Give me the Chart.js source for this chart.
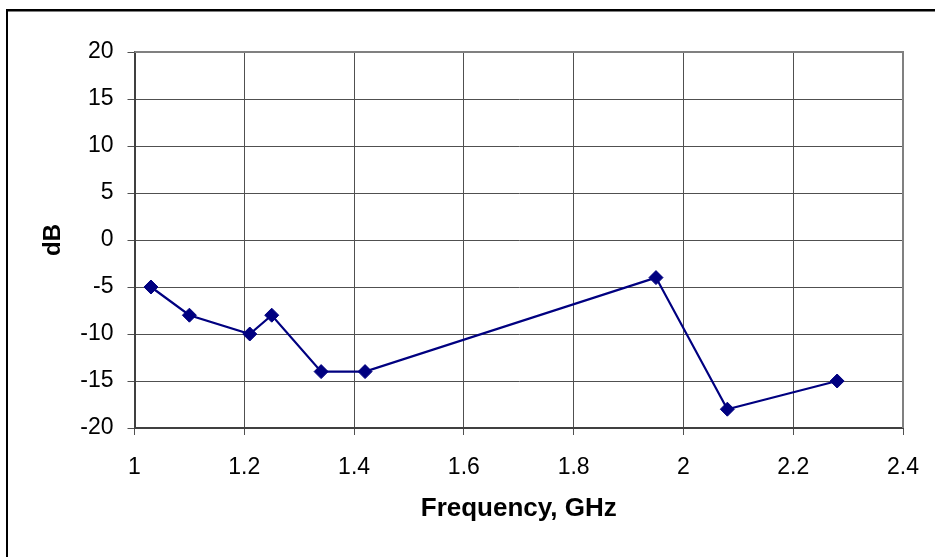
<!DOCTYPE html>
<html>
<head>
<meta charset="utf-8">
<script src="https://cdn.jsdelivr.net/npm/chart.js@4/dist/chart.umd.min.js"></script>
<style>
  html, body { margin: 0; padding: 0; background: #ffffff; }
  #wrap { width: 935px; height: 557px; position: relative; }
</style>
</head>
<body>
<div id="wrap"><canvas id="c" width="935" height="557"></canvas></div>
<script>
// Data
const frequencyGHz = [1.03, 1.10, 1.21, 1.25, 1.34, 1.42, 1.95, 2.08, 2.28];
const levelDB      = [-5, -8, -10, -8, -14, -14, -4, -18, -15];
const xTickValues  = [1, 1.2, 1.4, 1.6, 1.8, 2, 2.2, 2.4];
const yTickValues  = [-20, -15, -10, -5, 0, 5, 10, 15, 20];
const xTitle = 'Frequency, GHz';
const yTitle = 'dB';

const points = frequencyGHz.map((f, i) => ({ x: f, y: levelDB[i] }));

const frame = {
  id: 'frame',
  beforeDraw(chart) {
    const ctx = chart.ctx;
    ctx.save();
    ctx.fillStyle = '#ffffff';
    ctx.fillRect(0, 0, chart.width, chart.height);
    ctx.fillStyle = '#000000';
    ctx.fillRect(6, 9, chart.width - 6, 2.5);
    ctx.fillRect(6, 9, 2, chart.height - 9);
    ctx.restore();
  },
  beforeDatasetsDraw(chart) {
    const ctx = chart.ctx;
    const a = chart.chartArea;
    ctx.save();
    ctx.strokeStyle = '#808080';
    ctx.lineWidth = 2;
    ctx.beginPath();
    ctx.moveTo(a.left, a.top);
    ctx.lineTo(a.right, a.top);
    ctx.lineTo(a.right, a.bottom);
    ctx.stroke();
    ctx.restore();
  }
};

const tickFont = { family: '"Liberation Sans", Arial, sans-serif', size: 23 };
const xTitleFont = { family: '"Liberation Sans", Arial, sans-serif', size: 26, weight: 'bold' };
const yTitleFont = { family: '"Liberation Sans", Arial, sans-serif', size: 24, weight: 'bold' };

new Chart(document.getElementById('c'), {
  type: 'line',
  data: {
    datasets: [{
      data: points,
      borderColor: '#000080',
      backgroundColor: '#000080',
      borderWidth: 2.2,
      pointStyle: 'rectRot',
      pointRadius: 7,
      pointBorderWidth: 1,
      pointBackgroundColor: '#000080',
      pointBorderColor: '#000080',
      tension: 0,
      fill: false
    }]
  },
  options: {
    responsive: false,
    animation: false,
    layout: { padding: { left: 0, top: 52, right: 32, bottom: 0 } },
    plugins: { legend: { display: false }, tooltip: { enabled: false } },
    scales: {
      x: {
        type: 'linear',
        min: xTickValues[0],
        max: xTickValues[xTickValues.length - 1],
        afterBuildTicks(scale) { scale.ticks = xTickValues.map(v => ({ value: v })); },
        afterFit(scale) { scale.height = 129; scale.paddingRight = 0; scale.paddingLeft = 0; },
        ticks: {
          color: '#000000',
          font: tickFont,
          padding: 19,
          maxRotation: 0,
          callback: v => String(v)
        },
        grid: { color: '#505050', lineWidth: 1, tickLength: 7, drawTicks: true },
        border: { color: '#404040', width: 2 },
        title: { display: true, text: xTitle, color: '#000000', font: xTitleFont, padding: { top: 0, bottom: 33 } }
      },
      y: {
        type: 'linear',
        min: yTickValues[0],
        max: yTickValues[yTickValues.length - 1],
        afterBuildTicks(scale) { scale.ticks = yTickValues.map(v => ({ value: v })); },
        afterFit(scale) { scale.width = 134.5; scale.paddingTop = 0; scale.paddingBottom = 0; },
        ticks: {
          color: '#000000',
          font: tickFont,
          padding: 14,
          callback: v => String(v)
        },
        grid: { color: '#505050', lineWidth: 1, tickLength: 7, drawTicks: true },
        border: { color: '#404040', width: 2 },
        title: { display: true, text: yTitle, color: '#000000', font: yTitleFont, padding: { top: 39, bottom: 0 } }
      }
    }
  },
  plugins: [frame]
});
</script>
</body>
</html>
